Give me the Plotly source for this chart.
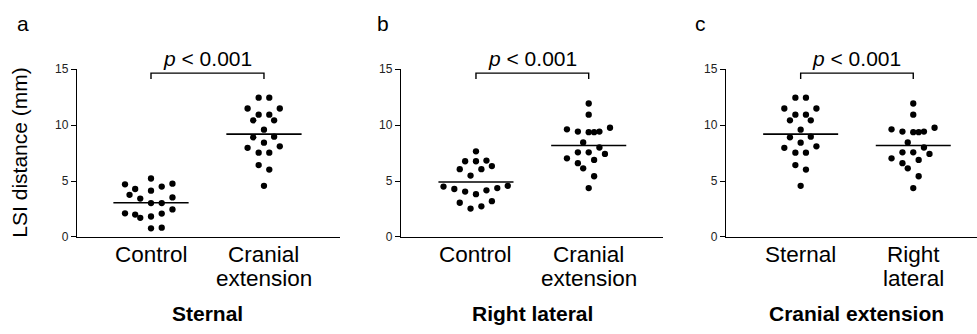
import plotly.graph_objects as go

# ---------------- data ----------------
sternal_control = [5.23, 4.71, 4.77, 4.29, 4.51, 4.14, 3.77, 3.54, 3.43, 3.03,
                   3.03, 2.46, 2.11, 2.00, 1.71, 1.83, 2.09, 0.77, 0.83]
sternal_control_jitter = [0, -0.23, 0.19, -0.14, 0.095, 0, -0.19, 0.19, -0.095, 0,
                          0.095, 0.19, -0.23, -0.14, -0.095, 0, 0.095, 0, 0.095]
sternal_cranial = [12.46, 12.46, 11.49, 11.49, 10.94, 10.94, 10.43, 10.43, 9.60, 8.91,
                   8.97, 8.43, 7.97, 8.11, 7.54, 7.54, 6.43, 6.03, 4.57]
sternal_cranial_jitter = [-0.047, 0.047, -0.145, 0.14, -0.047, 0.047, -0.095, 0.09, 0, -0.095,
                          0.09, 0, -0.145, 0.14, -0.047, 0.047, -0.047, 0.047, 0]
rightlat_control = [7.66, 6.77, 6.77, 6.83, 6.06, 6.06, 6.34, 5.49, 4.51, 4.29,
                    4.06, 3.83, 4.17, 4.37, 4.57, 3.06, 3.20, 2.54, 2.74]
rightlat_control_jitter = [0, -0.096, 0, 0.093, -0.144, 0.048, 0.141, -0.048, -0.288, -0.192,
                           -0.096, 0, 0.093, 0.189, 0.282, -0.144, 0.141, -0.048, 0.048]
rightlat_cranial = [11.94, 10.94, 9.63, 9.43, 9.37, 9.37, 9.43, 9.77, 8.46, 8.00,
                    7.57, 7.57, 7.43, 7.03, 6.89, 6.60, 6.14, 5.43, 4.37]
rightlat_cranial_jitter = [0, 0, -0.193, -0.096, 0, 0.048, 0.095, 0.189, -0.049, 0.095,
                           -0.096, 0, 0.144, -0.193, 0.048, -0.096, -0.049, 0.048, 0]

panel_letters = ["a", "b", "c"]
group_titles = ["Sternal", "Right lateral", "Cranial extension"]
category_labels = [
    [["Control"], ["Cranial", "extension"]],
    [["Control"], ["Cranial", "extension"]],
    [["Sternal"], ["Right", "lateral"]],
]
panel_series = [
    [(sternal_control, sternal_control_jitter), (sternal_cranial, sternal_cranial_jitter)],
    [(rightlat_control, rightlat_control_jitter), (rightlat_cranial, rightlat_cranial_jitter)],
    [(sternal_cranial, sternal_cranial_jitter), (rightlat_cranial, rightlat_cranial_jitter)],
]
p_text = "<i>p</i> < 0.001"
y_title = "LSI distance (mm)"
y_ticks = [0, 5, 10, 15]

# ---------------- layout geometry ----------------
W, H = 977, 334
FONT = "Liberation Sans, Arial, Helvetica, sans-serif"
x_domains_px = [(77, 340), (401, 663), (726, 977)]
x_ranges = [(-0.655, 1.673), (-0.665, 1.659), (-0.663, 1.566)]
y_bottom_px, y_top_px = 240, 65
y_domain = [(H - y_bottom_px) / H, (H - y_top_px) / H]


def py(px):
    return (H - px) / H


fig = go.Figure()
annotations = []
shapes = []

for i in range(3):
    ax = "" if i == 0 else str(i + 1)
    xref = "x" + ax
    yref = "y" + ax
    for c, (vals, jit) in enumerate(panel_series[i]):
        fig.add_trace(go.Scatter(
            x=[c + j for j in jit], y=vals, mode="markers",
            marker=dict(color="black", size=6.3, line=dict(width=0)),
            xaxis=xref, yaxis=yref, showlegend=False, hoverinfo="y"))
        m = sum(vals) / len(vals)
        fig.add_trace(go.Scatter(
            x=[c - 0.333, c + 0.333], y=[m, m], mode="lines",
            line=dict(color="black", width=1.6),
            xaxis=xref, yaxis=yref, showlegend=False, hoverinfo="skip"))

    d0, d1 = x_domains_px[i]
    fig.update_layout(**{
        "xaxis" + ax: dict(domain=[d0 / W, d1 / W], range=list(x_ranges[i]),
                           showline=True, linecolor="black", linewidth=1.4,
                           showticklabels=False, ticks="", showgrid=False,
                           zeroline=False, anchor=yref, fixedrange=True),
        "yaxis" + ax: dict(domain=y_domain, range=[0, 15], tickvals=y_ticks,
                           showline=True, linecolor="black", linewidth=1.4,
                           ticks="outside", ticklen=5, tickwidth=1.2, tickcolor="black",
                           tickfont=dict(family=FONT, size=12, color="#222"),
                           showgrid=False, zeroline=False, anchor=xref, fixedrange=True),
    })

    # significance bracket
    shapes.append(dict(type="path", xref=xref, yref=yref,
                       path="M 0,14.12 L 0,14.66 L 1,14.66 L 1,14.12",
                       line=dict(color="black", width=1.4)))
    annotations.append(dict(x=0.5, xref=xref, y=py(54), yref="paper", text=p_text,
                            showarrow=False, xanchor="center", yanchor="middle",
                            font=dict(family=FONT, size=21, color="black")))

    # category labels (one annotation per line)
    line_y = [258, 283]
    for c, lines in enumerate(category_labels[i]):
        for k, t in enumerate(lines):
            annotations.append(dict(x=c, xref=xref, y=py(line_y[k]), yref="paper", text=t,
                                    showarrow=False, xanchor="center", yanchor="middle",
                                    font=dict(family=FONT, size=22.5, color="black")))
    # group title
    annotations.append(dict(x=0.5, xref=xref, y=py(320), yref="paper",
                            text="<b>" + group_titles[i] + "</b>",
                            showarrow=False, xanchor="center", yanchor="middle",
                            font=dict(family=FONT, size=21, color="black")))

letter_x = [23, 383, 700]
for i in range(3):
    annotations.append(dict(x=letter_x[i] / W, xref="paper", y=py(17), yref="paper",
                            text=panel_letters[i], showarrow=False,
                            xanchor="center", yanchor="middle",
                            font=dict(family=FONT, size=21, color="black")))

annotations.append(dict(x=20 / W, xref="paper", y=py(152), yref="paper", text=y_title,
                        textangle=-90, showarrow=False, xanchor="center", yanchor="middle",
                        font=dict(family=FONT, size=21, color="black")))

fig.update_layout(width=W, height=H, margin=dict(l=0, r=0, t=0, b=0),
                  paper_bgcolor="white", plot_bgcolor="white",
                  annotations=annotations, shapes=shapes, showlegend=False)

fig.write_html("out.html", config={"displayModeBar": False},
               post_script="document.body.style.margin='0';"
                           "document.body.style.overflow='hidden';")
